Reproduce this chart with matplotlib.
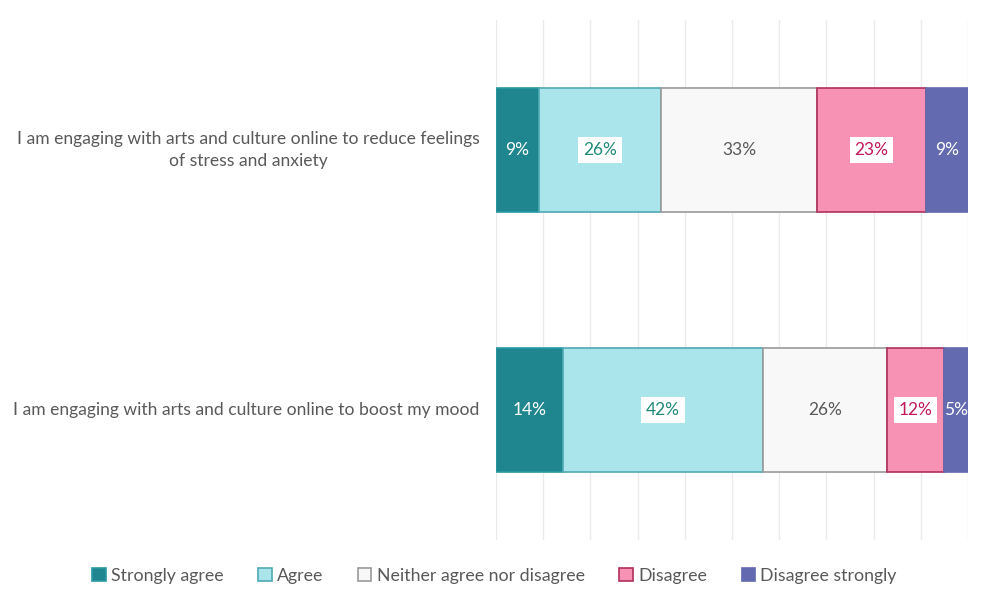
import matplotlib
matplotlib.use("Agg")
import matplotlib.pyplot as plt
from matplotlib.patches import Patch

plt.rcParams['font.family'] = ['Lato', 'DejaVu Sans']

categories = [
    "I am engaging with arts and culture online to reduce feelings\nof stress and anxiety",
    "I am engaging with arts and culture online to boost my mood",
]
series_names = ["Strongly agree", "Agree", "Neither agree nor disagree", "Disagree", "Disagree strongly"]
strongly_agree = [9.1, 14.2]
agree = [25.9, 42.4]
neither = [33.1, 26.2]
disagree = [22.9, 12.2]
disagree_strongly = [9.0, 5.0]
series_values = [strongly_agree, agree, neither, disagree, disagree_strongly]

fill_colors = ["#1F868F", "#A9E5EA", "#F8F8F8", "#F892B5", "#636AAF"]
edge_colors = ["#2A9AA3", "#4FA9B3", "#9A9A9A", "#B0305E", "#636AAF"]
text_colors = ["white", "#1E8A78", "#595959", "#C0175A", "white"]
text_boxes = [False, True, False, True, False]

fig = plt.figure(figsize=(9.89, 6.06), dpi=100)
ax = fig.add_axes([0.5015, 0.1089, 0.4773, 0.8581])

ypos = list(range(len(categories)))
left = [0.0] * len(categories)
for vals, fc, ec, tc, box, name in zip(series_values, fill_colors, edge_colors, text_colors, text_boxes, series_names):
    ax.barh(ypos, vals, left=left, height=0.477, color=fc, edgecolor=ec, linewidth=1.2, label=name, zorder=3)
    for y, v, l in zip(ypos, vals, left):
        kw = {}
        if box:
            kw['bbox'] = dict(boxstyle='square,pad=0.28', facecolor='white', edgecolor='none')
        ax.text(l + v / 2, y, f"{round(v):.0f}%", ha='center', va='center', color=tc,
                fontsize=12.5, zorder=5, **kw)
    left = [a + b for a, b in zip(left, vals)]

ax.set_xlim(0, 100)
ax.set_ylim(1.5, -0.5)
ax.set_xticks(range(0, 101, 10))
ax.xaxis.grid(True, color='#EBEBEB', linewidth=1, zorder=0)
ax.tick_params(axis='x', length=0, labelbottom=False)
ax.tick_params(axis='y', length=0, pad=12)
ax.set_yticks(ypos)
ax.set_yticklabels(categories, fontsize=12.6, color='#595959', multialignment='center', linespacing=1.5)
for t in ax.get_yticklabels():
    t.set_verticalalignment('center')
for s in ax.spines.values():
    s.set_visible(False)

handles = [Patch(facecolor=fc, edgecolor=ec, linewidth=1.2) for fc, ec in zip(fill_colors, edge_colors)]
fig.legend(handles, series_names, loc='center', bbox_to_anchor=(0.5, 0.0495), ncol=5, frameon=False,
           fontsize=12.8, labelcolor='#595959', handlelength=0.75, handleheight=0.75,
           handletextpad=0.3, columnspacing=1.95)

fig.savefig("out.png", dpi=100, facecolor='white')
